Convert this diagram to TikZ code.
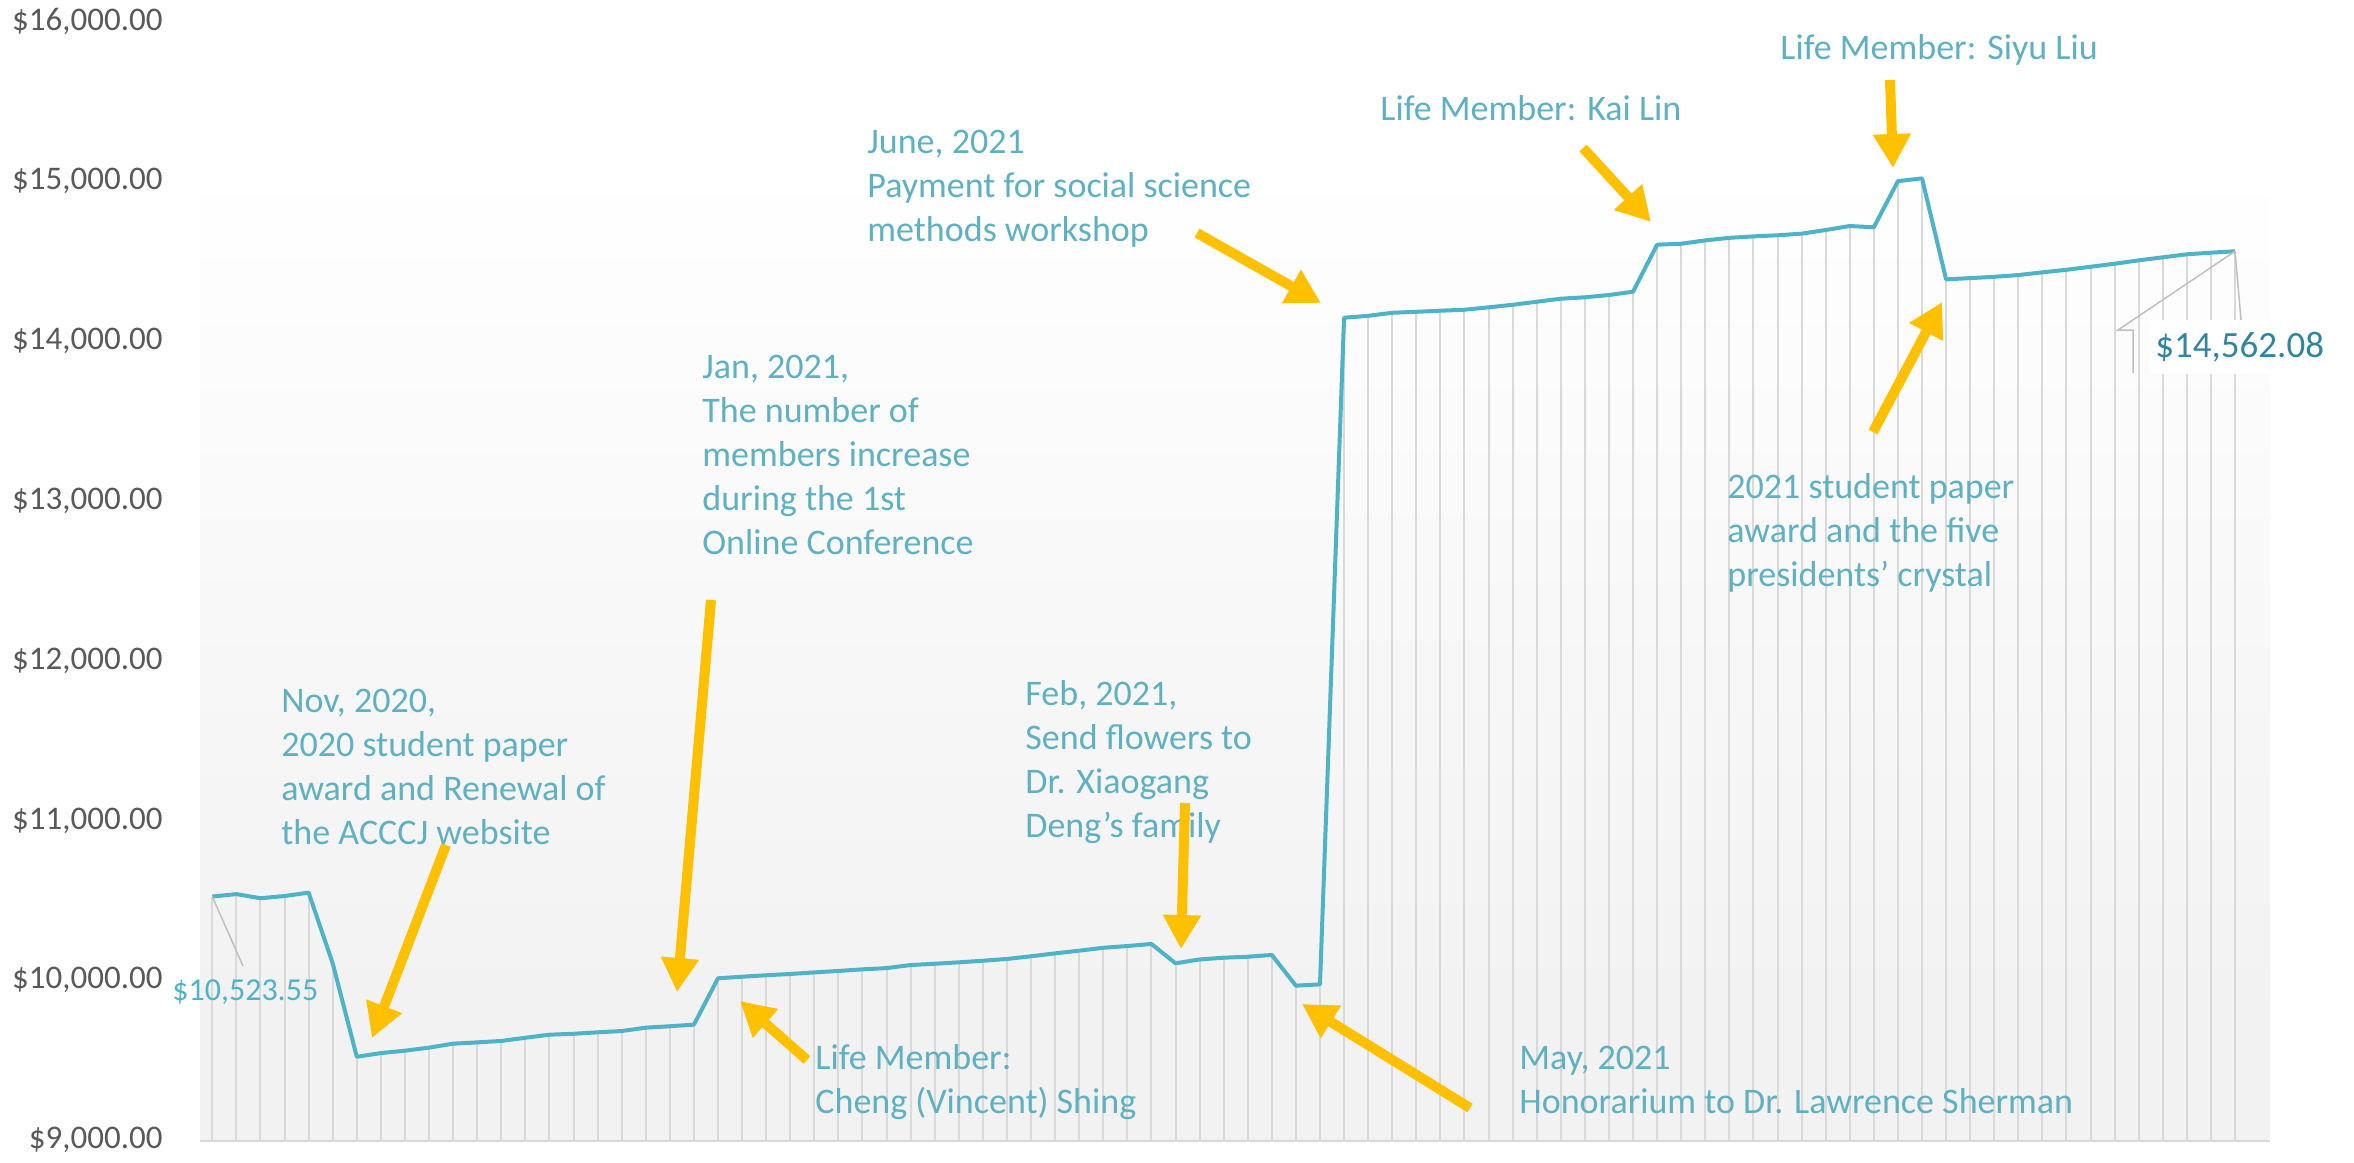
\documentclass[tikz,border=0pt]{standalone}
\usepackage{fontspec}
\setmainfont{Carlito}
\usetikzlibrary{arrows.meta}

\definecolor{lineteal}{HTML}{4FB3C8}
\definecolor{noteteal}{HTML}{5FB1C1}
\definecolor{lastteal}{HTML}{31859C}
\definecolor{axisgray}{HTML}{595959}
\definecolor{dropgray}{HTML}{D9D9D9}
\definecolor{leadgray}{HTML}{BFBFBF}
\definecolor{pointergold}{HTML}{FFC000}
\definecolor{plotbg}{HTML}{F2F2F2}

\tikzset{
  note/.style={anchor=base west, align=left, text=noteteal, inner sep=0pt,
    font=\fontsize{18}{22}\selectfont}, % placed at the baseline of its last line
  ylab/.style={anchor=east, text=axisgray, inner sep=0pt,
    font=\fontsize{16.5}{19}\selectfont},
  droplines/.style={dropgray, line width=1pt},
  balance/.style={lineteal, line width=2pt, line join=round},
  pointer/.style={pointergold, line width=5pt, -{Triangle[width=18pt,length=17pt]}},
  leader/.style={leadgray, line width=0.75pt},
}

% monthly balances, one per drop line
\def\balances{10523.55,10539,10513,10527,10548,10106,9521,9544,9559,9578,
9603,9611,9620,9640,9659,9665,9674,9682,9703,9712,
9722,10012,10022,10031,10039,10049,10058,10068,10076,10095,
10103,10112,10122,10133,10150,10168,10185,10203,10214,10227,
10106,10130,10141,10147,10158,9966,9974,14146,14158,14177,
14183,14190,14196,14211,14227,14246,14265,14274,14288,14309,
14603,14609,14630,14646,14655,14662,14672,14695,14720,14712,
15001,15018,14386,14394,14402,14413,14430,14446,14465,14484,
14505,14524,14543,14553,14562.08}

\begin{document}
\begin{tikzpicture}[x=0.5pt,y=-0.5pt]
  \useasboundingbox (0,0) rectangle (2354,1162);

  % plot area
  \shade [top color=white, bottom color=plotbg] (200,163) rectangle (2270,1000);
  \fill [plotbg] (200,1000) rectangle (2270,1141);
  \draw [droplines] (200,1141) -- (2270,1141); % category axis

  % value axis labels
  \foreach \k in {0,...,7}
    \node [ylab] (ylab\k) at (163,{1140-159.8*\k}) {\$\pgfmathparse{int(9+\k)}\pgfmathresult,000.00};

  % drop lines and the balance line
  \begin{scope}[shift={(212.3,1140)}, x=12.04pt, y=0.0799pt]
    \foreach \v [count=\i from 0] in \balances
      \draw [droplines] (\i,0) -- (\i,{\v-9000});
    \draw [balance] (0,1523.55) foreach \v [count=\i from 0] in \balances { -- (\i,{\v-9000}) };
    \coordinate (first) at (0,1523.55);
    \coordinate (last) at (84,5562.08);
  \end{scope}

  % data labels
  \node [anchor=west, inner sep=0pt, text=lineteal, font=\fontsize{16}{19}\selectfont] (firstlab) at (172,992) {\$10,523.55};
  \draw [leader] (first) -- (243,966);
  \node [anchor=west, fill=white, inner xsep=2.5pt, minimum height=27pt, text=lastteal,
    font=\fontsize{18.5}{22}\selectfont] (lastlab) at (2150,347) {\$14,562.08};
  \draw [leader] (last) -- (2118,330) -- (2133,330) -- (2133,373);
  \draw [leader] (last) -- (2241,320);

  % notes
  \node [note] (novNote) at (281,844) {Nov, 2020,\\2020 student paper\\award and Renewal of\\the ACCCJ website};
  \node [note] (janNote) at (702,554) {Jan, 2021,\\The number of\\members increase\\during the 1st\\Online Conference};
  \node [note] (chengNote) at (815,1113) {Life Member:\\Cheng (Vincent) Shing};
  \node [note] (febNote) at (1025,837) {Feb, 2021,\\Send flowers to\\Dr. Xiaogang\\Deng’s family};
  \node [note] (mayNote) at (1519,1113) {May, 2021\\Honorarium to Dr. Lawrence Sherman};
  \node [note] (juneNote) at (867,241) {June, 2021\\Payment for social science\\methods workshop};
  \node [note] (kaiNote) at (1380,120) {Life Member: Kai Lin};
  \node [note] (siyuNote) at (1780,59) {Life Member: Siyu Liu};
  \node [note] (paperNote) at (1727,586) {2021 student paper\\award and the five\\presidents’ crystal};

  % arrow ends
  \coordinate (novTail) at (446,845);   \coordinate (novTip) at (372,1038);
  \coordinate (janTail) at (711,600);   \coordinate (janTip) at (677,992);
  \coordinate (chengTail) at (807,1060); \coordinate (chengTip) at (740,1001);
  \coordinate (febTail) at (1185,803);  \coordinate (febTip) at (1181,949);
  \coordinate (mayTail) at (1470,1108); \coordinate (mayTip) at (1302,1004);
  \coordinate (juneTail) at (1197,233); \coordinate (juneTip) at (1321,303);
  \coordinate (kaiTail) at (1583,148);  \coordinate (kaiTip) at (1651,222);
  \coordinate (siyuTail) at (1890,80);  \coordinate (siyuTip) at (1893,168);
  \coordinate (paperTail) at (1873,432); \coordinate (paperTip) at (1942,302);

  \foreach \a in {nov,jan,cheng,feb,may,june,kai,siyu,paper}
    \draw [pointer] (\a Tail) -- (\a Tip);
\end{tikzpicture}
\end{document}
